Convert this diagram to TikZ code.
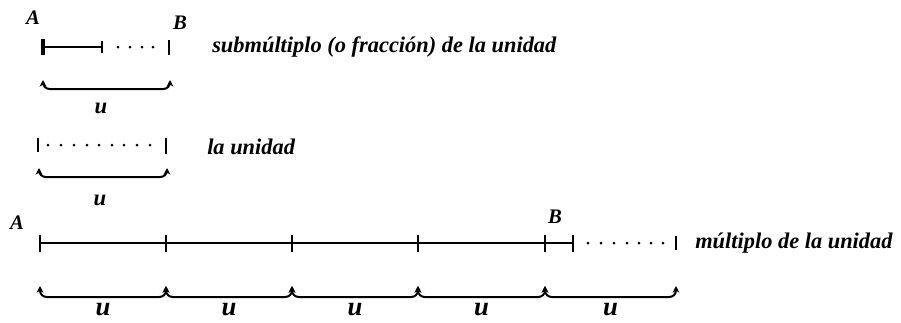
\documentclass[tikz,border=0pt]{standalone}
\usepackage{fontspec}
\setmainfont{Liberation Serif}
\usetikzlibrary{arrows.meta,calc}

\begin{document}
\begin{tikzpicture}[x=0.75pt, y=-0.75pt, line cap=butt]
\tikzset{
  lbl/.style={font=\bfseries\itshape\fontsize{16.8}{17}\selectfont, inner sep=0pt, anchor=west},
  pt/.style={font=\bfseries\itshape\fontsize{15.5}{15}\selectfont, inner sep=0pt},
  ulbl/.style={font=\bfseries\itshape\fontsize{17}{17}\selectfont, inner sep=0pt},
  bigu/.style={font=\bfseries\itshape\fontsize{20}{20}\selectfont, inner sep=0pt},
  seg/.style={line width=1.5pt},
  tickmark/.style={line width=2pt},
  bracket/.style={line width=1.5pt, rounded corners=5pt,
    {Stealth[length=5pt,width=5pt]}-{Stealth[length=5pt,width=5pt]}},
}
\useasboundingbox (0,0) rectangle (901,322);
%
% Row 1: submultiple
\coordinate (a1) at (43,47);
\coordinate (m1) at (102,47);
\coordinate (b1) at (169,47);
\node[pt] (labA1) at (33,18) {A};
\node[pt] (labB1) at (180,23) {B};
\draw[seg] (a1) -- (m1);
\draw[tickmark, line width=2.6pt] ($(a1)+(0,-8)$) -- ($(a1)+(0,8)$);
\draw[tickmark] ($(m1)+(0,-6)$) -- ($(m1)+(0,6)$);
\draw[tickmark] ($(b1)+(0,-7)$) -- ($(b1)+(0,8)$);
\foreach \x in {118,130,142,153} \fill (\x,47) circle (1.5);
\node[lbl] (txt1) at (212,47) {submúltiplo (o fracción) de la unidad};
\draw[bracket] (43,80) -- (43,89) -- (170,89) -- (170,80);
\node[ulbl] (u1) at (101,108) {u};
%
% Row 2: the unit
\coordinate (a2) at (38,145);
\coordinate (b2) at (166,145);
\draw[tickmark] ($(a2)+(0,-7)$) -- ($(a2)+(0,7)$);
\draw[tickmark] ($(b2)+(0,-7)$) -- ($(b2)+(0,9)$);
\foreach \x in {48,61,74,87,99,112,124,137,150} \fill (\x,145) circle (1.5);
\node[lbl] (txt2) at (207,147) {la unidad};
\draw[bracket] (39,168) -- (39,177) -- (167,177) -- (167,168);
\node[ulbl] (u2) at (100,200) {u};
%
% Row 3: multiple
\node[pt] (labA3) at (17,223) {A};
\node[pt] (labB3) at (555,217) {B};
\foreach \x [count=\i from 0] in {40,166,292,418,545,676}
  \coordinate (t\i) at (\x,243);
\coordinate (t6) at (573,243);
\draw[seg] (t0) -- (t6);
\foreach \i in {0,...,4,6}
  \draw[tickmark] ($(t\i)+(0,-8)$) -- ($(t\i)+(0,9)$);
\draw[tickmark] ($(t5)+(0,-7)$) -- ++(0,14);
\foreach \x in {588,601,614,627,639,651,663} \fill (\x,243) circle (1.5);
\node[lbl] (txt3) at (695,243) {múltiplo de la unidad};
% brackets under each unit
\foreach \i in {0,...,4} {
  \pgfmathtruncatemacro\j{\i+1}
  \draw[bracket] ($(t\i)+(0,43)$) -- ($(t\i)+(0,54)$) -- ($(t\j)+(0,54)$) -- ($(t\j)+(0,43)$);
  \node[bigu] (u3\i) at ($(t\i)!0.5!(t\j)+(0,67)$) {u};
}
\end{tikzpicture}
\end{document}
